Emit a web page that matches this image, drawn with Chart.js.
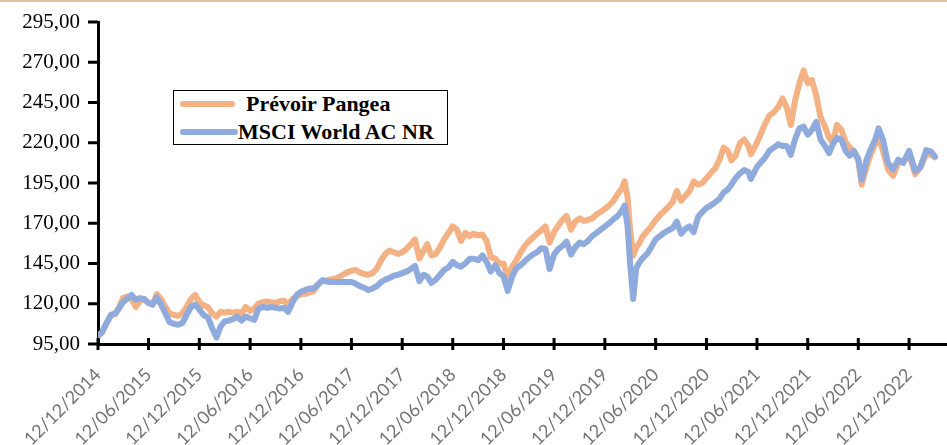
<!DOCTYPE html>
<html>
<head>
<meta charset="utf-8">
<script src="https://cdn.jsdelivr.net/npm/chart.js@4.4.1/dist/chart.umd.min.js"></script>
<style>
  html, body { margin: 0; padding: 0; background: #fff; }
  #wrap { position: relative; width: 947px; height: 445px; overflow: hidden; }
  #topline { position: absolute; left: 0; top: 0; width: 947px; height: 2px; background: #D8C79C; }
  #legend { position: absolute; left: 173px; top: 90px; width: 273px; height: 53px; border: 1.5px solid #000; background: #fff; }
  .lg-line { position: absolute; height: 6px; border-radius: 3px; }
  .lg-text { position: absolute; font: bold 22px "Liberation Serif", "Times New Roman", serif; color: #000; line-height: 22px; white-space: nowrap; }
</style>
</head>
<body>
<div id="wrap">
  <canvas id="c" width="947" height="445"></canvas>
  <div id="topline"></div>
  <div id="legend">
    <div class="lg-line" style="left:6px; top:10px; width:55px; background:#F4B183;"></div>
    <div class="lg-text" style="left:72px; top:2px;">Prévoir Pangea</div>
    <div class="lg-line" style="left:6px; top:38px; width:58px; background:#8FAADC;"></div>
    <div class="lg-text" style="left:64px; top:30px;">MSCI World AC NR</div>
  </div>
</div>
<script>
const seriesNames = ['Prévoir Pangea', 'MSCI World AC NR'];

const dates = [
  '2014-12-12','2014-12-27',
  '2015-01-12','2015-01-27','2015-02-12','2015-02-27','2015-03-12','2015-03-27','2015-04-12','2015-04-27','2015-05-12','2015-05-27','2015-06-12','2015-06-27','2015-07-12','2015-07-27','2015-08-12','2015-08-27','2015-09-12','2015-09-27','2015-10-12','2015-10-27','2015-11-12','2015-11-27','2015-12-12','2015-12-27',
  '2016-01-12','2016-01-27','2016-02-12','2016-02-27','2016-03-12','2016-03-27','2016-04-12','2016-04-27','2016-05-12','2016-05-27','2016-06-12','2016-06-27','2016-07-12','2016-07-27','2016-08-12','2016-08-27','2016-09-12','2016-09-27','2016-10-12','2016-10-27','2016-11-12','2016-11-27','2016-12-12','2016-12-27',
  '2017-01-12','2017-01-27','2017-02-12','2017-02-27','2017-03-12','2017-03-27','2017-04-12','2017-04-27','2017-05-12','2017-05-27','2017-06-12','2017-06-27','2017-07-12','2017-07-27','2017-08-12','2017-08-27','2017-09-12','2017-09-27','2017-10-12','2017-10-27','2017-11-12','2017-11-27','2017-12-12','2017-12-27',
  '2018-01-12','2018-01-27','2018-02-12','2018-02-27','2018-03-12','2018-03-27','2018-04-12','2018-04-27','2018-05-12','2018-05-27','2018-06-12','2018-06-27','2018-07-12','2018-07-27','2018-08-12','2018-08-27','2018-09-12','2018-09-27','2018-10-12','2018-10-27','2018-11-12','2018-11-27','2018-12-12','2018-12-27',
  '2019-01-12','2019-01-27','2019-02-12','2019-02-27','2019-03-12','2019-03-27','2019-04-12','2019-04-27','2019-05-12','2019-05-27','2019-06-12','2019-06-27','2019-07-12','2019-07-27','2019-08-12','2019-08-27','2019-09-12','2019-09-27','2019-10-12','2019-10-27','2019-11-12','2019-11-27','2019-12-12','2019-12-27',
  '2020-01-12','2020-01-27','2020-02-12','2020-02-21','2020-03-03','2020-03-12','2020-03-23','2020-04-03','2020-04-12','2020-04-27','2020-05-12','2020-05-27','2020-06-12','2020-06-27','2020-07-12','2020-07-27','2020-08-12','2020-08-27','2020-09-12','2020-09-27','2020-10-12','2020-10-27','2020-11-12','2020-11-27','2020-12-12','2020-12-27',
  '2021-01-12','2021-01-27','2021-02-12','2021-02-27','2021-03-12','2021-03-27','2021-04-12','2021-04-27','2021-05-12','2021-05-21','2021-06-03','2021-06-12','2021-06-27','2021-07-12','2021-07-27','2021-08-12','2021-08-27','2021-09-12','2021-09-27','2021-10-12','2021-10-27','2021-11-12','2021-11-27','2021-12-12','2021-12-27',
  '2022-01-12','2022-01-27','2022-02-12','2022-02-27','2022-03-12','2022-03-27','2022-04-12','2022-04-27','2022-05-12','2022-05-27','2022-06-12','2022-06-24','2022-07-12','2022-07-27','2022-08-12','2022-08-24','2022-09-09','2022-09-27','2022-10-15','2022-11-03','2022-11-21','2022-12-12',
  '2023-01-03','2023-01-21','2023-02-12','2023-03-01','2023-03-15'
];

const pangea = [
  100,102,
  108,113,113.5,118,123.5,124.5,123,118,121.5,123,120.5,119.5,126,123,118,114,113,112.5,114,118,123,125.5,121,119,
  118,114,112,115,114.5,115,114.5,115,114,118,115.5,117,120,121,121.5,121,120.5,121.5,122,119.5,123,124.5,126,126,
  127,128,132,134.5,134.5,135,135.5,136.5,138,139.5,140.5,141,139.5,138.5,138,139,142,147,151,153,152,151,152,154,
  157,160,148,153,157,150,151,155,160,164,168,166,159,164,162,163.5,162.5,163,159,149,148,145,145,136,
  143,147,152,156,158.5,161,163.5,165.5,168,158,164.5,168.5,172,174.5,166,171,173,171.5,172,173,175.5,177,179,181,
  184,188,192,196,186,166,150,155,157,162,165,168,172,175,177.5,180,183,190,184,187,190,196,194,195,198,201,
  204,209,217,215,209,212,220,222,218,213,217,220,226,232,237,239,242,247.5,242,231,246,257,265,257,259,
  249,236,230,223,220,231,228,220.5,217,214,209,194,205,213,219,224,215,203.5,199.5,207.5,208,213,
  200.5,204.5,213,212.5,211
];

const msci = [
  100,102.5,
  108,113,114,117.5,121,123,125.5,122.5,123.5,123,120.5,119.5,124,119.5,114,108.5,107.5,107,108,113,118,119.5,116.5,113,
  111.5,105,99,106,109,109.5,110.5,112,109.5,112,111,110,117,118,117.5,118,117.5,117,117.5,115,121,125.5,127.5,128.5,
  129.5,129.5,132,134.5,134,133.5,133.5,133.5,133.5,133.5,133.5,132.5,131,130,128.5,129.5,131,133.5,135,136,137.5,138,139,140,
  141.5,143.5,134,138,137,133,135,138,141,142.5,146,144,143,145,148,148,147,150,146,140,144,139,137,128,
  137,142,144,146.5,148.5,150.5,152,154.5,154,141.5,150.5,154,156,158.5,150.5,155,158,157,159,162,164,166,168,170,
  172.5,174.5,178,181,168,145,123,142,145,148.5,151,155,160,162,164,165.5,167,171,163.5,166.5,168,164.5,174,177,179.5,181,
  183,185,189,191,194,198,201,203,202,197.5,202,205,208,211,215,217,219,218,218,212.5,222,229,230,225,228,
  233,222,218,213.5,219,223,222,215,212,215,210,197,209.5,216,222,229,222,207.5,203.5,209.5,207.5,215,
  202.5,204.5,215.5,214.5,211.5
];

const xTickLabels = [
  '12/12/2014','12/06/2015','12/12/2015','12/06/2016','12/12/2016','12/06/2017','12/12/2017','12/06/2018',
  '12/12/2018','12/06/2019','12/12/2019','12/06/2020','12/12/2020','12/06/2021','12/12/2021','12/06/2022','12/12/2022'
];
const yMin = 95, yMax = 295, yStep = 25;
const xEndDate = '2023-04-24';

const T0 = Date.UTC(2014, 11, 12);
function dayOfIso(s) { return (Date.parse(s + 'T00:00:00Z') - T0) / 86400000; }
function dayOfLabel(s) { const [d, m, y] = s.split('/'); return dayOfIso(y + '-' + m + '-' + d); }
const xTickValues = xTickLabels.map(dayOfLabel);

function toPoints(vals) { return dates.map((d, i) => ({ x: dayOfIso(d), y: vals[i] })); }

const tickMarks = {
  id: 'tickMarks',
  afterDraw(chart) {
    const { ctx, scales: { x, y } } = chart;
    ctx.save();
    ctx.strokeStyle = '#000';
    ctx.lineWidth = 3;
    ctx.beginPath();
    y.ticks.forEach(t => {
      const py = y.getPixelForValue(t.value);
      ctx.moveTo(x.left - 10, py); ctx.lineTo(x.left, py);
    });
    x.ticks.forEach(t => {
      const px = x.getPixelForValue(t.value);
      ctx.moveTo(px, y.bottom - 6); ctx.lineTo(px, y.bottom + 6);
    });
    ctx.stroke();
    ctx.restore();
  }
};

new Chart(document.getElementById('c'), {
  type: 'line',
  data: {
    datasets: [
      { label: seriesNames[0], data: toPoints(pangea), borderColor: '#F4B183', borderWidth: 6, pointRadius: 0, tension: 0, order: 2, borderJoinStyle: 'round', borderCapStyle: 'round' },
      { label: seriesNames[1], data: toPoints(msci), borderColor: '#8FAADC', borderWidth: 6, pointRadius: 0, tension: 0, order: 1, borderJoinStyle: 'round', borderCapStyle: 'round' }
    ]
  },
  options: {
    responsive: false,
    animation: false,
    layout: { padding: { top: 22, right: 1, left: 0, bottom: 0 } },
    plugins: { legend: { display: false }, tooltip: { enabled: false } },
    scales: {
      x: {
        type: 'linear',
        min: 0,
        max: dayOfIso(xEndDate),
        afterBuildTicks: s => { s.ticks = xTickValues.map(v => ({ value: v })); },
        afterFit: s => { s.height = 101; },
        grid: { display: false, drawTicks: false, tickLength: 0 },
        border: { display: true, color: '#000', width: 3 },
        ticks: {
          autoSkip: false,
          maxRotation: 45,
          minRotation: 45,
          padding: 20,
          color: '#737373',
          font: { family: 'Lato', size: 18 },
          callback: (v, i) => xTickLabels[i]
        }
      },
      y: {
        min: yMin,
        max: yMax,
        afterFit: s => { s.width = 98; s.paddingTop = 0; s.paddingBottom = 0; },
        grid: { display: false, drawTicks: false, tickLength: 0 },
        border: { display: true, color: '#000', width: 3 },
        ticks: {
          stepSize: yStep,
          padding: 18,
          color: '#000',
          font: { family: 'Liberation Serif', size: 21 },
          callback: v => v.toFixed(2).replace('.', ',')
        }
      }
    }
  },
  plugins: [tickMarks]
});
</script>
</body>
</html>
